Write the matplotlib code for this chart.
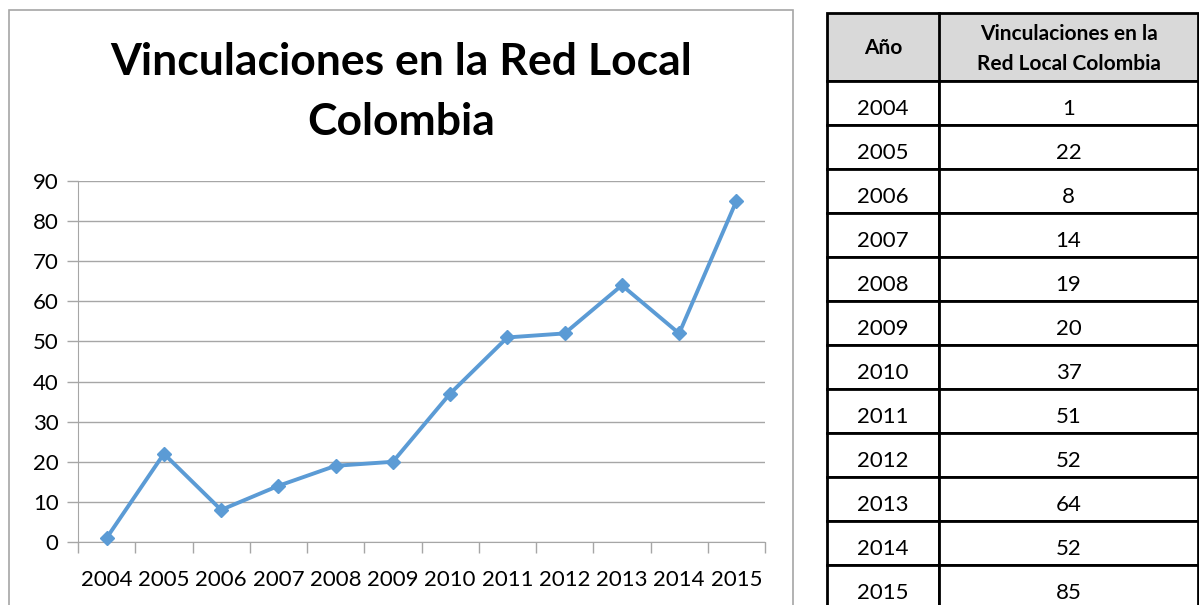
from matplotlib import pyplot as plt
from matplotlib.patches import Rectangle

years = ['2004', '2005', '2006', '2007', '2008', '2009', '2010',
         '2011', '2012', '2013', '2014', '2015']
vinculaciones = [1, 22, 8, 14, 19, 20, 37, 51, 52, 64, 52, 85]
title = 'Vinculaciones en la Red Local\nColombia'
col_headers = ['Año', 'Vinculaciones en la\nRed Local Colombia']

W, H = 1199, 605
plt.rcParams['font.family'] = ['Lato', 'DejaVu Sans']

fig = plt.figure(figsize=(W / 100, H / 100), dpi=100)

# chart frame
fig.patches.append(Rectangle((9 / W, -0.05), (793 - 9) / W, (H - 10) / H + 0.05,
                             transform=fig.transFigure, fill=False,
                             edgecolor='#a6a6a6', lw=1.2))

fig.text(401 / W, 1 - 92 / H, title, ha='center', va='center',
         fontsize=32, fontweight='bold', linespacing=1.6)

ax = fig.add_axes([78 / W, (H - 542) / H, (765 - 78) / W, (542 - 181) / H])
x = list(range(len(years)))
ax.plot(x, vinculaciones, color='#5b9bd5', lw=2.8, marker='D', ms=7,
        clip_on=False, zorder=3)
ax.set_xlim(-0.5, len(years) - 0.5)
ax.set_ylim(0, 90)
ax.set_yticks(range(0, 91, 10))
ax.set_xticks([i - 0.5 for i in range(len(years) + 1)])
ax.set_xticklabels([])
ax.set_xticks(x, minor=True)
ax.set_xticklabels(years, minor=True)
ax.tick_params(axis='x', which='major', length=8, color='#a6a6a6', width=1)
ax.tick_params(axis='x', which='minor', length=0, pad=20, labelsize=16)
ax.tick_params(axis='y', length=8, color='#a6a6a6', width=1, labelsize=16, pad=6)
ax.grid(axis='y', color='#a6a6a6', lw=1)
ax.set_axisbelow(True)
for s in ['top', 'right']:
    ax.spines[s].set_visible(False)
for s in ['left', 'bottom']:
    ax.spines[s].set_color('#a6a6a6')

# table
tx = fig.add_axes([0, 0, 1, 1])
tx.set_xlim(0, W)
tx.set_ylim(H, 0)
tx.axis('off')
left, mid, right = 827, 939, 1198
top, head_bot, row_h = 13, 81, 44
tx.add_patch(Rectangle((left, top), right - left, head_bot - top,
                       facecolor='#d9d9d9', edgecolor='black', lw=2))
tx.plot([mid, mid], [top, head_bot], color='black', lw=2)
tx.text((left + mid) / 2, (top + head_bot) / 2 + 1, col_headers[0], ha='center',
        va='center', fontsize=15, fontweight='bold')
tx.text((mid + right) / 2, (top + head_bot) / 2 + 2, col_headers[1], ha='center',
        va='center', fontsize=15, fontweight='bold', linespacing=1.6)
for i, (yr, v) in enumerate(zip(years, vinculaciones)):
    y0 = head_bot + i * row_h
    tx.add_patch(Rectangle((left, y0), mid - left, row_h, facecolor='white',
                           edgecolor='black', lw=2, clip_on=False))
    tx.add_patch(Rectangle((mid, y0), right - mid, row_h, facecolor='white',
                           edgecolor='black', lw=2, clip_on=False))
    tx.text((left + mid) / 2, y0 + row_h / 2 + 6, yr, ha='center', va='center',
            fontsize=16)
    tx.text((mid + right) / 2, y0 + row_h / 2 + 6, str(v), ha='center',
            va='center', fontsize=16)

fig.savefig('out.png', dpi=100)
